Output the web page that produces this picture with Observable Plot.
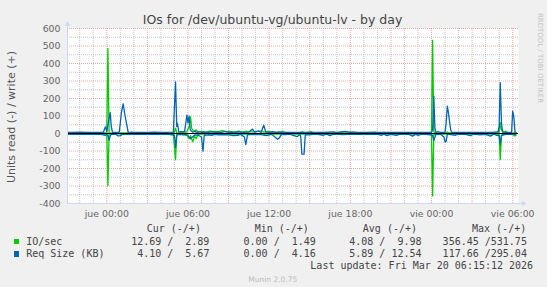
<!DOCTYPE html>
<html><head><meta charset="utf-8">
<script src="https://cdn.jsdelivr.net/npm/d3@7"></script>
<script src="https://cdn.jsdelivr.net/npm/@observablehq/plot@0.6"></script>
<style>
html,body{margin:0;padding:0;background:#f0f0f0;}
#chart{position:relative;width:547px;height:287px;background:#f0f0f0;overflow:hidden;font-family:"DejaVu Sans",sans-serif;color:#555;}
#chart svg{position:absolute;left:0;top:0;}
.t{position:absolute;white-space:pre;line-height:12px;}
.mono{font-family:"DejaVu Sans Mono",monospace;font-size:10px;color:#444;}
</style></head><body><div id="chart"></div>
<script>
// ---------- DATA (hours relative to Thu 2026-03-19 00:00, value) ----------
const ioWrite = [[-2.9,3],[-2.0,2],[-1.0,3],[0.0,3],[0.08,486],[0.17,3],[0.5,2],[1.0,3],[1.75,3],[1.83,8],[1.92,3],[3.0,2],[3.45,3],[3.53,8],[3.62,3],[4.5,2],[5.0,3],[5.08,30],[5.17,5],[5.5,4],[5.92,10],[6.08,40],[6.19,95],[6.27,30],[6.43,10],[6.6,20],[6.75,8],[7.0,12],[7.3,8],[7.6,14],[8.0,10],[8.3,12],[8.55,16],[8.8,10],[9.14,12],[9.4,8],[9.73,14],[10.0,8],[10.3,12],[10.6,10],[11.0,9],[11.36,14],[11.6,8],[11.95,12],[12.3,6],[12.7,8],[13.06,10],[13.3,4],[13.8,3],[14.2,4],[14.46,9],[14.7,3],[15.13,10],[15.3,3],[16.0,3],[17.0,3],[17.7,10],[17.85,3],[18.0,9],[18.2,3],[19.0,3],[19.84,8],[20.0,3],[21.0,3],[22.0,3],[23.0,3],[24.0,3],[24.08,531.75],[24.17,10],[24.33,3],[25.0,3],[25.17,8],[25.33,3],[26.0,3],[27.0,3],[28.0,3],[29.0,5],[29.08,62],[29.17,20],[29.33,10],[29.5,12],[29.67,3],[30.0,4],[30.25,2.89]];
const ioRead = [[-2.9,2],[-2.0,2],[-1.0,3],[0.0,2],[0.08,299],[0.17,3],[0.5,2],[1.0,2],[2.0,3],[3.0,2],[4.0,2],[4.92,3],[5.08,149],[5.17,5],[5.5,3],[5.92,10],[6.08,30],[6.19,12],[6.35,48],[6.47,15],[6.6,30],[6.75,5],[7.0,4],[8.0,3],[9.0,4],[10.0,3],[11.0,3],[12.0,4],[13.0,3],[14.0,2],[15.0,3],[16.0,2],[17.0,3],[18.0,2],[19.0,3],[20.0,2],[21.0,3],[22.0,2],[23.0,3],[24.0,2],[24.08,356.45],[24.17,6],[24.5,3],[25.0,2],[26.0,3],[27.0,2],[28.0,3],[29.0,4],[29.08,149],[29.17,12],[29.33,5],[29.67,3],[30.0,4],[30.17,14],[30.25,12.69]];
const reqWrite = [[-2.9,7],[-2.5,6],[-2.0,8],[-1.5,6],[-1.0,7],[-0.5,6],[-0.25,7],[-0.1,38],[0.0,12],[0.08,50],[0.25,120],[0.33,40],[0.42,7],[0.67,6],[0.92,8],[1.0,60],[1.08,120],[1.21,169],[1.33,110],[1.46,57],[1.58,7],[2.0,6],[2.5,7],[3.0,6],[3.5,8],[4.0,6],[4.5,7],[4.92,8],[5.08,295.04],[5.17,40],[5.22,57],[5.33,8],[5.5,10],[5.75,12],[5.92,105],[6.0,60],[6.08,100],[6.17,20],[6.33,8],[6.5,12],[6.67,6],[6.83,10],[7.0,6],[7.25,8],[7.5,6],[7.75,10],[8.0,6],[8.25,8],[8.5,6],[8.75,12],[9.0,6],[9.25,8],[9.5,6],[9.75,10],[10.0,6],[10.5,8],[10.77,25],[10.92,8],[11.2,15],[11.4,6],[11.6,47],[11.75,8],[12.0,6],[12.25,10],[12.5,6],[12.75,8],[13.0,6],[13.5,7],[14.0,6],[14.5,7],[15.0,6],[15.5,7],[16.0,7],[16.7,9],[17.0,6],[17.65,12],[18.0,6],[18.2,9],[18.5,6],[19.0,7],[19.5,6],[20.0,7],[20.5,6],[21.0,7],[21.5,6],[22.0,7],[22.5,6],[23.0,7],[23.5,6],[24.0,7],[24.08,20],[24.17,214],[24.25,30],[24.33,7],[24.5,10],[24.67,6],[25.0,6],[25.08,60],[25.17,156],[25.25,120],[25.33,70],[25.42,20],[25.5,7],[26.0,6],[26.5,7],[27.0,6],[27.5,7],[28.0,6],[28.5,7],[28.92,10],[29.0,40],[29.08,291],[29.17,60],[29.25,8],[29.5,7],[29.75,6],[29.92,7],[30.0,127],[30.08,100],[30.17,10],[30.25,5.67]];
const reqRead = [[-2.9,5],[-2.5,4],[-2.0,5],[-1.5,4],[-1.0,5],[-0.5,4],[-0.1,10],[0.0,5],[0.08,10],[0.17,38],[0.25,15],[0.33,5],[0.67,4],[0.83,14],[1.0,12],[1.17,5],[1.5,4],[2.0,5],[2.5,4],[3.0,5],[3.5,4],[4.0,5],[4.5,4],[5.0,10],[5.08,80],[5.17,10],[5.33,5],[5.67,8],[5.83,5],[6.0,10],[6.17,30],[6.33,20],[6.5,8],[6.75,10],[7.0,20],[7.11,101],[7.2,10],[7.5,8],[7.75,10],[8.0,5],[8.25,8],[8.5,6],[8.99,8],[9.36,12],[9.66,10],[9.9,5],[10.17,20],[10.27,63],[10.4,8],[10.67,5],[11.0,6],[11.3,5],[11.8,12],[12.2,5],[12.62,33],[12.76,25],[12.9,5],[13.25,6],[13.5,4],[14.07,18],[14.25,5],[14.33,15],[14.42,118],[14.58,117.66],[14.67,8],[14.96,8],[15.25,5],[15.5,4],[16.0,10],[16.25,4],[16.5,12],[16.75,4],[17.0,5],[17.5,6],[18.0,4],[18.5,5],[19.0,4],[19.5,5],[20.0,4],[20.3,10],[20.5,4],[20.7,12],[21.0,5],[21.4,10],[21.7,4],[22.0,5],[22.3,4],[22.6,15],[22.8,5],[23.04,10],[23.3,4],[23.6,5],[23.9,8],[24.08,10],[24.17,40],[24.33,5],[24.67,4],[24.92,20],[25.0,48],[25.08,45],[25.17,5],[25.33,5],[25.77,10],[26.0,4],[26.5,5],[26.88,12],[27.1,4],[27.6,8],[28.0,5],[28.36,15],[28.6,4],[28.8,10],[29.0,12],[29.08,62],[29.17,10],[29.5,5],[29.75,4],[30.0,6],[30.25,4.10]];

const yMajorTicks = [-400,-300,-200,-100,0,100,200,300,400,500,600];
const yMinorTicks = [-350,-250,-150,-50,50,150,250,350,450,550];
const xLabelHours = [0,6,12,18,24,30];
const xLabels = ["jue 00:00","jue 06:00","jue 12:00","jue 18:00","vie 00:00","vie 06:00"];

const titleText = "IOs for /dev/ubuntu-vg/ubuntu-lv - by day";
const yTitle = "Units read (-) / write (+)";
const legendNames = ["IO/sec", "Req Size (KB)"];
const legendColors = ["#00cc00", "#0066b3"];
const statHeaders = ["Cur (-/+)", "Min (-/+)", "Avg (-/+)", "Max (-/+)"];
const statIO  = ["12.69 /  2.89", "0.00 /  1.49", "4.08 /  9.98", "356.45 /531.75"];
const statReq = ["4.10 /  5.67", "0.00 /  4.16", "5.89 / 12.54", "117.66 /295.04"];
const lastUpdate = "Last update: Fri Mar 20 06:15:12 2026";
const footer = "Munin 2.0.75";
const watermark = "RRDTOOL / TOBI OETIKER";

// ---------- BUILD ----------
const base = Date.UTC(2026, 2, 19, 0, 0, 0);
const toDate = h => new Date(base + h * 3600000);
const rows = (pairs, sign) => pairs.map(([h, v]) => ({t: toDate(h), v: sign * v}));

const xDomain = [toDate(-2.905), toDate(30.43)];
const axisColor = "#cfd6f8";
const gridColor = "rgba(150,150,150,0.55)";
const mgridColor = "rgba(235,110,110,0.6)";
const lw = 1.3;

const minorHours = d3.range(-2, 31).filter(h => h % 3 !== 0);
const majorHours = d3.range(0, 31, 3);

const plot = Plot.plot({
  width: 547, height: 220,
  marginLeft: 67, marginRight: 29, marginTop: 28, marginBottom: 17,
  style: "background: transparent; font-family: 'DejaVu Sans', sans-serif; font-size: 9.33px; color: #666; overflow: visible;",
  x: {type: "utc", domain: xDomain, ticks: xLabelHours.map(toDate),
      tickFormat: d => xLabels[xLabelHours.indexOf(Math.round((d - base) / 3600000))],
      tickSize: 0, tickPadding: 7, label: null},
  y: {domain: [-400, 600], ticks: yMajorTicks, tickFormat: d => String(d),
      tickSize: 0, tickPadding: 7, label: null},
  marks: [
    Plot.frame({fill: "white", stroke: "none"}),
    Plot.ruleY(yMinorTicks, {stroke: gridColor, strokeDasharray: "1,1"}),
    Plot.ruleX(minorHours.map(toDate), {stroke: gridColor, strokeDasharray: "1,1"}),
    Plot.ruleY(yMajorTicks, {stroke: mgridColor, strokeDasharray: "1,1"}),
    Plot.ruleX(majorHours.map(toDate), {stroke: mgridColor, strokeDasharray: "1,1"}),
    Plot.line(rows(ioRead, -1), {x: "t", y: "v", stroke: legendColors[0], strokeWidth: lw}),
    Plot.line(rows(ioWrite, 1), {x: "t", y: "v", stroke: legendColors[0], strokeWidth: lw}),
    Plot.line(rows(reqRead, -1), {x: "t", y: "v", stroke: legendColors[1], strokeWidth: lw}),
    Plot.line(rows(reqWrite, 1), {x: "t", y: "v", stroke: legendColors[1], strokeWidth: lw}),
    Plot.ruleY([0], {stroke: "black", strokeWidth: 1}),
    Plot.ruleX([xDomain[0]], {y1: -400, y2: 630, stroke: axisColor}),
    Plot.ruleY([-400], {x1: xDomain[0], x2: toDate(30.75), stroke: axisColor}),
    Plot.dot([{t: xDomain[0], v: 624}], {x: "t", y: "v", symbol: "triangle", r: 2, fill: axisColor, stroke: "none"}),
    Plot.dot([{t: toDate(30.8), v: -400}], {x: "t", y: "v", symbol: "triangle", r: 2, rotate: 90, fill: axisColor, stroke: "none"})
  ]
});

const chart = document.getElementById("chart");
chart.appendChild(plot);

function addText(txt, opts) {
  const el = document.createElement("div");
  el.className = "t" + (opts.mono ? " mono" : "");
  el.textContent = txt;
  const s = el.style;
  if (opts.size) s.fontSize = opts.size + "px";
  if (opts.color) s.color = opts.color;
  if (opts.right !== undefined) s.right = (547 - opts.right) + "px";
  if (opts.left !== undefined) s.left = opts.left + "px";
  if (opts.top !== undefined) s.top = opts.top + "px";
  if (opts.transform) s.transform = opts.transform;
  chart.appendChild(el);
  return el;
}

// title
addText(titleText, {left: 272.6, top: 19.5, size: 12.5, color: "#444", transform: "translate(-50%,-50%)"});
// y title
addText(yTitle, {left: 12, top: 117, size: 11, color: "#555", transform: "translate(-50%,-50%) rotate(-90deg)"});
// watermark
addText(watermark, {left: 540.4, top: 58, size: 7, color: "#c4c4c4", transform: "translate(-50%,-50%) rotate(90deg)"});

// legend
const colRightHeader = [200.9, 308.8, 417, 526.2];
const colRightValue = [209.4, 315.8, 421.5, 526.9];
statHeaders.forEach((h, i) => addText(h, {mono: true, right: colRightHeader[i], top: 228.6 - 6}));
const rowY = [241.5, 254];
[statIO, statReq].forEach((vals, r) => {
  const sq = document.createElement("div");
  sq.style.cssText = `position:absolute;left:13.8px;top:${rowY[r] - 2.8}px;width:5.6px;height:5.6px;background:${legendColors[r]};`;
  chart.appendChild(sq);
  addText(legendNames[r], {mono: true, left: 26.2, top: rowY[r] - 6});
  vals.forEach((v, i) => addText(v, {mono: true, right: colRightValue[i], top: rowY[r] - 6}));
});
addText(lastUpdate, {mono: true, right: 533.1, top: 266.3 - 6});
addText(footer, {left: 272.8, top: 279.6, size: 7.5, color: "#bbb", transform: "translate(-50%,-50%)"});
</script></body></html>
